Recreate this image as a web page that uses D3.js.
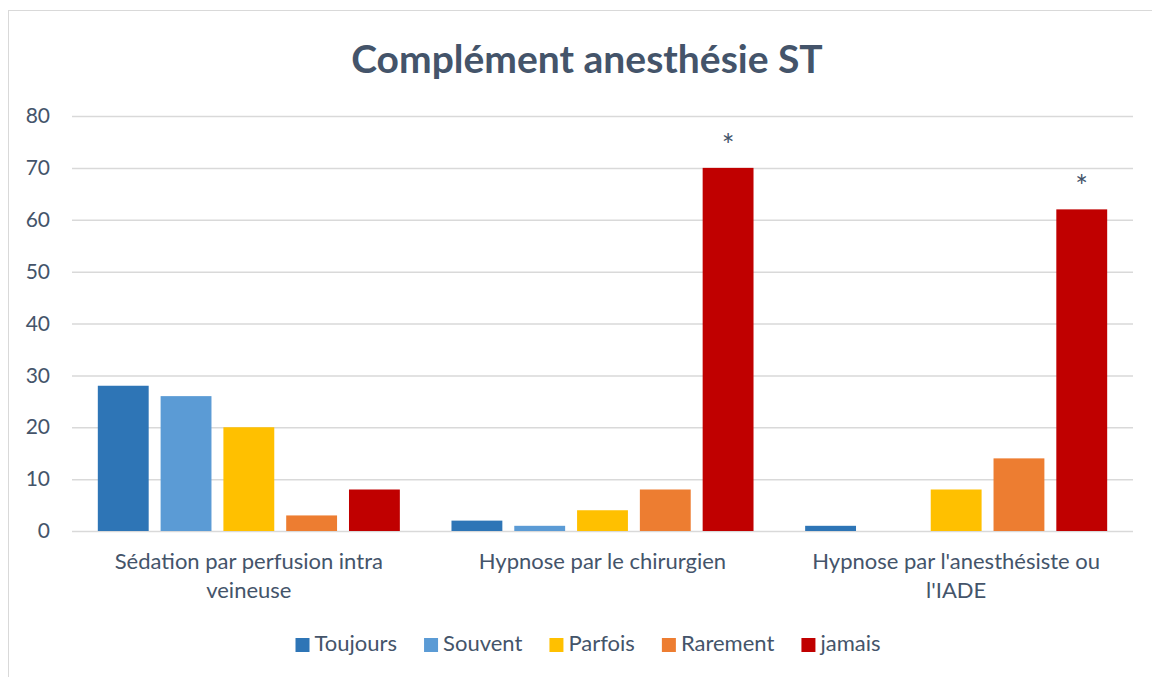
<!DOCTYPE html>
<html>
<head>
<meta charset="utf-8">
<script src="https://cdn.jsdelivr.net/npm/d3@7"></script>
<style>
  body { margin: 0; background: #fff; }
  svg { display: block; font-family: Lato, "Open Sans", sans-serif; }
</style>
</head>
<body>
<div id="chart"></div>
<script>
const categories = [
  ["Sédation par perfusion intra", "veineuse"],
  ["Hypnose par le chirurgien"],
  ["Hypnose par l'anesthésiste ou", "l'IADE"]
]
const series = ["Toujours", "Souvent", "Parfois", "Rarement", "jamais"]
const colors = ["#2E75B6", "#5B9BD5", "#FFC000", "#ED7D31", "#C00000"]

const toujours = [28, 2, 1]
const souvent = [26, 1, 0]
const parfois = [20, 4, 8]
const rarement = [3, 8, 14]
const jamais = [8, 70, 62]

// asterisks marked above some bars: [category index, series name]
const starred = [[1, "jamais"], [2, "jamais"]]

const yTicks = [0, 10, 20, 30, 40, 50, 60, 70, 80]
const title = "Complément anesthésie ST"

const width = 1152
const height = 677
const margin = {top: 116, right: 19, bottom: 146, left: 72}
const textColor = "#44546A"

const values = [toujours, souvent, parfois, rarement, jamais]
const data = categories.map((c, i) => ({
  idx: i,
  values: series.map((s, j) => ({ series: s, value: values[j][i], color: colors[j] }))
}))

const svg = d3.select("#chart")
  .append("svg")
  .attr("width", width)
  .attr("height", height)

// frame
svg.append("rect")
  .attr("x", 8.5).attr("y", 10.5)
  .attr("width", width).attr("height", height)
  .style("fill", "none")
  .style("stroke", "#D9D9D9")

const x0 = d3.scaleBand()
  .domain(categories.map((c, i) => i))
  .range([margin.left, width - margin.right])
  .paddingInner(0.146)
  .paddingOuter(0.073)

const x1 = d3.scaleBand()
  .domain(series)
  .range([0, x0.bandwidth()])
  .paddingInner(0.19)

const y = d3.scaleLinear()
  .domain([0, 80])
  .range([height - margin.bottom, margin.top])

// title
svg.append("text")
  .attr("x", 587)
  .attr("y", 73)
  .attr("text-anchor", "middle")
  .style("font-size", "39px")
  .style("font-weight", "bold")
  .style("fill", textColor)
  .text(title)

// gridlines + y axis
const yaxis = svg.append("g")
  .attr("class", "y axis")
  .attr("transform", "translate(" + margin.left + ",0)")
  .call(d3.axisLeft(y)
    .tickValues(yTicks)
    .tickSizeInner(-(width - margin.left - margin.right))
    .tickSizeOuter(0)
    .tickPadding(22)
  )
yaxis.select(".domain").remove()
yaxis.selectAll("line").style("stroke", "#D9D9D9").style("stroke-width", 1.5)
yaxis.selectAll("text")
  .style("font-size", "21px")
  .style("font-family", "Lato, sans-serif")
  .style("fill", textColor)

// bars
const groups = svg.append("g").selectAll("g")
  .data(data)
  .enter()
  .append("g")
  .attr("transform", d => "translate(" + x0(d.idx) + ",0)")

groups.selectAll("rect")
  .data(d => d.values)
  .enter()
  .append("rect")
  .attr("x", d => x1(d.series))
  .attr("y", d => y(d.value))
  .attr("width", x1.bandwidth())
  .attr("height", d => y(0) - y(d.value))
  .style("fill", d => d.color)

// asterisks
svg.append("g").selectAll("text")
  .data(starred)
  .enter()
  .append("text")
  .attr("x", d => x0(d[0]) + x1(d[1]) + x1.bandwidth() / 2)
  .attr("y", d => y(values[series.indexOf(d[1])][d[0]]) - 12)
  .attr("text-anchor", "middle")
  .style("font-size", "30px")
  .style("fill", textColor)
  .text("*")

// category labels
const catLabels = svg.append("g").selectAll("text")
  .data(categories)
  .enter()
  .append("text")
  .attr("x", (d, i) => x0(i) + x0.bandwidth() / 2)
  .attr("y", 569)
  .attr("text-anchor", "middle")
  .style("font-size", "22px")
  .style("fill", textColor)

catLabels.selectAll("tspan")
  .data(d => d)
  .enter()
  .append("tspan")
  .attr("x", function () { return this.parentNode.getAttribute("x") })
  .attr("dy", (d, i) => i === 0 ? 0 : 29)
  .text(d => d)

// legend
const legend = svg.append("g")
const items = legend.selectAll("g")
  .data(series)
  .enter()
  .append("g")

items.append("rect")
  .attr("width", 14).attr("height", 14)
  .attr("y", -13)
  .style("fill", (d, i) => colors[i])

items.append("text")
  .attr("x", 19)
  .style("font-size", "22px")
  .style("fill", textColor)
  .text(d => d)

let lx = 0
items.each(function () {
  const w = this.getBBox().width
  d3.select(this).attr("transform", "translate(" + lx + ",0)")
  lx += w + 27
})
const totalW = lx - 27
legend.attr("transform", "translate(" + (588 - totalW / 2) + ",651)")
</script>
</body>
</html>
